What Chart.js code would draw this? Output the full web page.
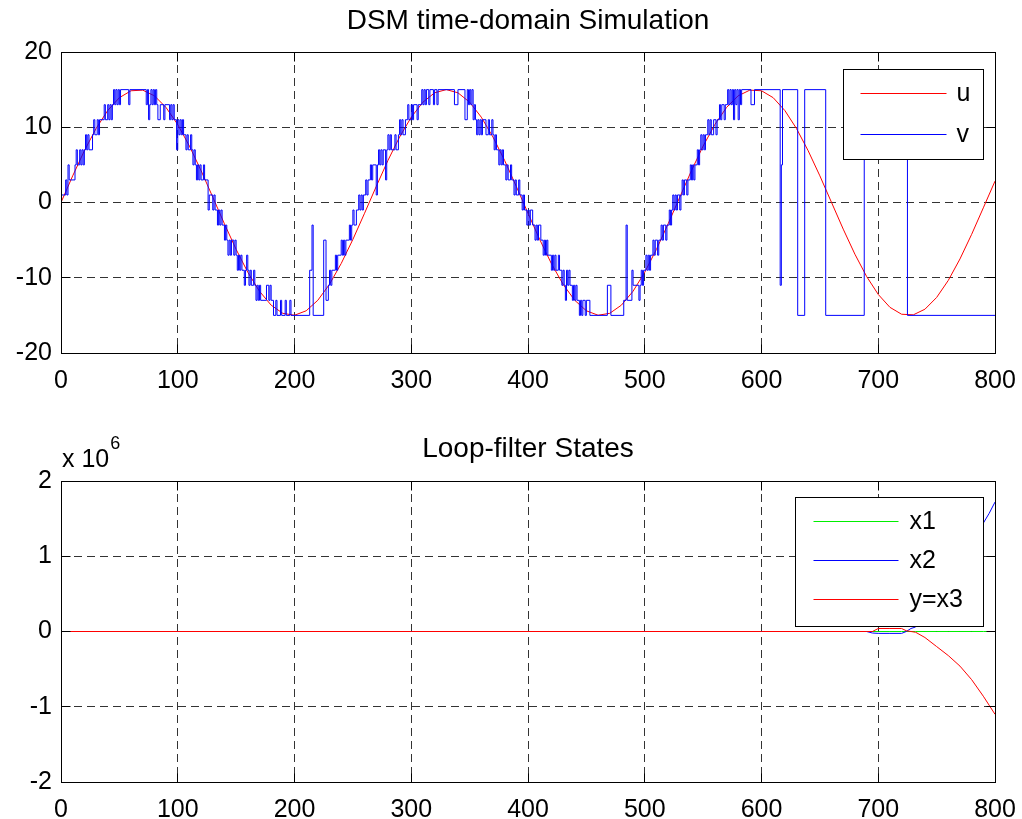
<!DOCTYPE html>
<html>
<head>
<meta charset="utf-8">
<script src="https://cdn.jsdelivr.net/npm/chart.js@4.4.1/dist/chart.umd.min.js"></script>
<style>
html,body{margin:0;padding:0;background:#ffffff;}
#wrap{position:relative;width:1022px;height:819px;overflow:hidden;}
canvas{position:absolute;left:0;}
</style>
</head>
<body>
<div id="wrap">
<canvas id="c1" width="1022" height="410" style="top:0;width:1022px;height:410px"></canvas>
<canvas id="c2" width="1022" height="409" style="top:410px;width:1022px;height:409px"></canvas>
</div>
<script>
// ---------------- data ----------------
const xTickValues = [0, 100, 200, 300, 400, 500, 600, 700, 800];
const topYTickValues = [-20, -10, 0, 10, 20];
const bottomYTickValues = [-2, -1, 0, 1, 2];   // in units of 10^6
const bottomExponent = 6;

const titleTop = 'DSM time-domain Simulation';
const titleBottom = 'Loop-filter States';

// input u, read every 10 samples
const uTimes = [0,10,20,30,40,50,60,70,80,90,100,110,120,130,140,150,160,170,180,190,
  200,210,220,230,240,250,260,270,280,290,300,310,320,330,340,350,360,370,380,390,
  400,410,420,430,440,450,460,470,480,490,500,510,520,530,540,550,560,570,580,590,
  600,610,620,630,640,650,660,670,680,690,700,710,720,730,740,750,760,770,780,790,800];
const uValues = [0,3.54,6.87,9.82,12.22,13.93,14.85,14.93,14.18,12.62,
  10.35,7.5,4.23,0.71,-2.84,-6.23,-9.27,-11.79,-13.64,-14.73,
  -14.98,-14.39,-12.99,-10.86,-8.11,-4.91,-1.43,2.13,5.58,8.7,
  11.34,13.33,14.58,15,14.58,13.33,11.34,8.7,5.58,2.13,
  -1.43,-4.91,-8.11,-10.86,-12.99,-14.39,-14.98,-14.73,-13.64,-11.79,
  -9.27,-6.23,-2.84,0.71,4.23,7.5,10.35,12.62,14.18,14.93,
  14.85,13.93,12.22,9.82,6.87,3.54,0,-3.54,-6.87,-9.82,
  -12.22,-13.93,-14.85,-14.93,-14.18,-12.62,-10.35,-7.5,-4.23,-0.71,2.84];

// quantizer output v: [sample where level starts, level]
const vSteps = [[0,1],[4,3],[5,1],[6,5],[7,3],[12,5],[13,7],[14,5],[16,7],[17,5],[18,7],[19,5],[20,7],[21,9],[22,7],[23,9],[24,7],[27,9],[28,11],[29,9],[31,11],[32,9],[33,11],[37,13],[38,11],[40,13],[41,11],[42,13],[43,11],[44,13],[45,15],[46,13],[47,15],[48,13],[49,15],[50,13],[51,15],[58,13],[59,15],
[73,13],[74,15],[75,11],[76,13],[77,15],[78,13],[79,15],[80,13],[81,15],[82,13],[83,11],[85,13],[88,11],[89,13],[93,11],[94,13],[95,11],[96,13],[97,11],[99,7],[100,11],[101,9],[102,11],[103,9],[104,11],[105,9],[107,7],[108,9],[109,7],[111,9],[112,7],[113,5],[114,7],[115,5],[116,3],[117,5],[118,3],[119,5],[120,3],[122,5],[123,3],[126,-1],[127,1],[130,-1],[131,1],[132,-1],[134,-3],[135,-1],[136,-3],[137,-1],[138,-3],[140,-5],[141,-3],[142,-5],[143,-7],[144,-5],[145,-7],[146,-5],[148,-7],[149,-5],[150,-7],[151,-9],[152,-7],[153,-9],[154,-7],[155,-9],[157,-11],[158,-9],[159,-7],[160,-9],[161,-11],[162,-9],[163,-11],[165,-9],[166,-11],[167,-13],[168,-11],[169,-13],[170,-11],[171,-13],[176,-11],[178,-13],[179,-11],[180,-13],[182,-15],[184,-13],[185,-15],[188,-13],[189,-15],[192,-13],[193,-15],[196,-13],[197,-15],
[213,-9],[215,-3],[216,-15],[225,-5],[227,-13],[229,-11],[230,-9],[231,-11],[232,-9],[235,-7],[236,-9],[237,-7],[240,-5],[241,-7],[242,-5],[243,-7],[244,-5],[247,-3],[248,-5],[249,-3],[250,-1],[251,-3],[253,-1],[255,1],[256,-1],[257,1],[258,-1],[259,1],[261,3],[262,1],[263,3],[265,5],[266,3],[267,5],[270,1],[271,5],[272,7],[273,5],[274,7],[275,5],[276,7],[278,3],[279,7],[280,9],[281,7],[282,9],[283,7],[286,9],[287,7],[289,9],[290,11],[291,9],[292,11],[293,9],[295,11],[297,13],[298,11],[300,13],[301,11],[302,13],[305,11],[306,13],[309,15],[310,13],[311,15],[312,13],[313,15],[315,13],[316,15],[319,13],[320,15],[322,13],[323,15],[337,13],[340,15],
[346,11],[348,15],[349,13],[350,15],[351,13],[352,15],[353,11],[354,13],[355,11],[356,9],[357,11],[358,9],[359,11],[360,9],[361,11],[364,9],[366,11],[367,9],[369,11],[370,9],[371,7],[372,9],[373,7],[375,5],[376,7],[377,5],[378,7],[379,5],[381,3],[382,5],[383,3],[385,5],[386,3],[388,1],[389,3],[390,1],[392,3],[393,1],[395,-1],[396,1],[397,-1],[399,-3],[400,-1],[401,-3],[402,-1],[404,-3],[406,-5],[407,-3],[408,-5],[409,-3],[411,-5],[413,-7],[414,-5],[415,-7],[416,-5],[417,-7],[420,-9],[421,-7],[422,-9],[423,-7],[424,-9],[426,-7],[427,-9],[429,-11],[430,-9],[431,-11],[432,-13],[433,-9],[434,-11],[435,-9],[436,-11],[438,-13],[439,-11],[440,-13],[441,-11],[442,-13],[444,-15],[445,-13],[446,-15],[447,-13],[449,-15],[450,-13],[453,-15],
[468,-11],[471,-15],[482,-13],[484,-3],[485,-13],[489,-9],[490,-11],[495,-13],[496,-11],[497,-9],[498,-11],[499,-9],[501,-7],[502,-9],[503,-7],[504,-9],[505,-7],[507,-5],[508,-7],[509,-5],[511,-7],[512,-5],[514,-3],[515,-5],[516,-3],[518,-5],[519,-3],[521,-1],[522,-3],[523,-1],[524,1],[525,-1],[526,1],[527,-1],[528,1],[530,-1],[531,1],[532,3],[533,1],[534,3],[536,1],[537,3],[539,5],[540,3],[541,5],[542,3],[543,5],[545,7],[546,5],[547,7],[548,9],[549,7],[550,9],[551,7],[552,9],[554,11],[555,9],[556,11],[557,9],[559,11],[561,9],[562,11],[564,13],[565,11],[566,13],[568,11],[569,13],[571,15],[572,13],[573,15],[574,13],[575,15],[576,11],[577,15],[578,13],[579,15],[580,11],[581,15],[582,13],[583,15],[591,13],[594,15],[616,-11],[617,5],[618,15],[631,-15],[637,15],[655,-15],[688,15],[725,-15],[800,-15]];

// loop-filter states (raw units)
const stateTimes = [0,100,200,300,400,500,600,690,695,700,710,720,724,728,732,740,750,760,770,780,790,795,800];
const x1Values = [0,0,0,0,0,0,0,0,0,0,0,0,0,0,0,0,0,0,0,0,0,0,0];
const x2Values = [0,0,0,0,0,0,0,0,-20000,-25000,-25000,-25000,0,40000,60000,200000,420000,650000,900000,1170000,1440000,1570000,1720000];
const x3Values = [0,0,0,0,0,0,0,0,0,40000,40000,40000,10000,0,-10000,-80000,-200000,-320000,-460000,-640000,-860000,-980000,-1100000];

// ---------------- styling ----------------
const FONT = '"Liberation Sans", Arial, Helvetica, sans-serif';
Chart.defaults.font.family = FONT;
Chart.defaults.font.size = 25;
Chart.defaults.color = '#000';

const al = p => Math.round(p - 0.5) + 0.5;

function makeFramePlugin(cfg) {
  return {
    id: 'matlabFrame',
    afterDraw(chart) {
      const {ctx, chartArea: a, scales} = chart;
      ctx.save();
      ctx.setLineDash([]);
      ctx.globalAlpha = 1;
      ctx.globalCompositeOperation = 'source-over';
      ctx.strokeStyle = '#000';
      ctx.lineWidth = 1;
      const L = al(a.left), R = al(a.right), T = al(a.top), B = al(a.bottom);
      const tl = 9;
      ctx.beginPath();
      scales.x.ticks.forEach(t => {
        const p = al(scales.x.getPixelForValue(t.value));
        ctx.moveTo(p, B); ctx.lineTo(p, B - tl);
        ctx.moveTo(p, T); ctx.lineTo(p, T + tl);
      });
      scales.y.ticks.forEach(t => {
        const p = al(scales.y.getPixelForValue(t.value));
        ctx.moveTo(L, p); ctx.lineTo(L + tl, p);
        ctx.moveTo(R, p); ctx.lineTo(R - tl, p);
      });
      ctx.stroke();
      ctx.strokeRect(L, T, R - L, B - T);

      // title
      ctx.fillStyle = '#000';
      ctx.font = '28px ' + FONT;
      ctx.textAlign = 'center';
      ctx.textBaseline = 'middle';
      ctx.fillText(cfg.title, (a.left + a.right) / 2, a.top - cfg.titleGap);

      // exponent label
      if (cfg.exponent) {
        ctx.textAlign = 'left';
        ctx.textBaseline = 'alphabetic';
        ctx.font = '25px ' + FONT;
        const base = 'x 10';
        ctx.fillText(base, a.left + 1, a.top - 14);
        const w = ctx.measureText(base).width;
        ctx.font = '18px ' + FONT;
        ctx.fillText(String(cfg.exponent), a.left + 2 + w, a.top - 32);
      }

      // legend
      const lg = cfg.legend;
      const bx = al(a.right - lg.rightGap - lg.width);
      const by = al(a.top + lg.topGap);
      ctx.fillStyle = '#ffffff';
      ctx.fillRect(bx, by, lg.width, lg.height);
      ctx.strokeStyle = '#000000';
      ctx.strokeRect(bx, by, lg.width, lg.height);
      ctx.font = '25px ' + FONT;
      ctx.textAlign = 'left';
      ctx.textBaseline = 'middle';
      for (let i = 0; i < lg.labels.length; i++) {
        const y = al(by + lg.firstRow + i * lg.rowGap);
        ctx.strokeStyle = lg.colors[i];
        ctx.lineWidth = 1;
        ctx.beginPath();
        ctx.moveTo(bx + lg.lineX0, y);
        ctx.lineTo(bx + lg.lineX1, y);
        ctx.stroke();
        ctx.fillStyle = '#000000';
        ctx.fillText(lg.labels[i], bx + lg.textX, y + 1);
      }
      ctx.restore();
    }
  };
}

function xScaleOpts(h) {
  return {
    type: 'linear', min: 0, max: 800,
    afterBuildTicks: s => { s.ticks = xTickValues.map(v => ({value: v})); },
    afterFit: s => { s.height = h; s.paddingLeft = 0; s.paddingRight = 0; },
    ticks: {padding: 13, autoSkip: false, maxRotation: 0, minRotation: 0, color: '#000'},
    grid: {color: '#333', lineWidth: 1, drawTicks: false},
    border: {display: false, dash: [8, 5]}
  };
}

// ---------------- top chart ----------------
new Chart(document.getElementById('c1'), {
  type: 'line',
  data: {
    datasets: [
      {label: 'u', data: uTimes.map((t, i) => ({x: t, y: uValues[i]})),
       borderColor: '#ff0000', borderWidth: 1, pointRadius: 0, tension: 0, order: 2},
      {label: 'v', data: vSteps.map(s => ({x: s[0], y: s[1]})), stepped: true,
       borderColor: '#0000ff', borderWidth: 1, pointRadius: 0, tension: 0, order: 1}
    ]
  },
  options: {
    responsive: false, animation: false, devicePixelRatio: 1, events: [],
    layout: {padding: {left: 0, right: 27, top: 52, bottom: 12}},
    plugins: {legend: {display: false}, tooltip: {enabled: false}},
    scales: {
      x: xScaleOpts(45),
      y: {
        type: 'linear', min: -20, max: 20,
        afterBuildTicks: s => { s.ticks = topYTickValues.map(v => ({value: v})); },
        afterFit: s => { s.width = 61; s.paddingTop = 0; s.paddingBottom = 0; },
        ticks: {padding: 9, color: '#000'},
        grid: {color: '#333', lineWidth: 1, drawTicks: false},
        border: {display: false, dash: [8, 5]}
      }
    }
  },
  plugins: [makeFramePlugin({
    title: titleTop, titleGap: 31,
    legend: {width: 140, height: 90, rightGap: 12, topGap: 17, firstRow: 24, rowGap: 41,
             lineX0: 17, lineX1: 103, textX: 113,
             labels: ['u', 'v'], colors: ['#ff0000', '#0000ff']}
  })]
});

// ---------------- bottom chart ----------------
const scaleFactor = Math.pow(10, bottomExponent);
new Chart(document.getElementById('c2'), {
  type: 'line',
  data: {
    datasets: [
      {label: 'x1', data: stateTimes.map((t, i) => ({x: t, y: x1Values[i]})),
       borderColor: '#00ee00', borderWidth: 1, pointRadius: 0, tension: 0, order: 3},
      {label: 'x2', data: stateTimes.map((t, i) => ({x: t, y: x2Values[i]})),
       borderColor: '#0000ff', borderWidth: 1, pointRadius: 0, tension: 0, order: 2},
      {label: 'y=x3', data: stateTimes.map((t, i) => ({x: t, y: x3Values[i]})),
       borderColor: '#ff0000', borderWidth: 1, pointRadius: 0, tension: 0, order: 1}
    ]
  },
  options: {
    responsive: false, animation: false, devicePixelRatio: 1, events: [],
    layout: {padding: {left: 0, right: 27, top: 71, bottom: 0}},
    plugins: {legend: {display: false}, tooltip: {enabled: false}},
    scales: {
      x: xScaleOpts(37),
      y: {
        type: 'linear', min: -2 * scaleFactor, max: 2 * scaleFactor,
        afterBuildTicks: s => { s.ticks = bottomYTickValues.map(v => ({value: v * scaleFactor})); },
        afterFit: s => { s.width = 61; s.paddingTop = 0; s.paddingBottom = 0; },
        ticks: {padding: 9, color: '#000', callback: v => String(Math.round(v / scaleFactor))},
        grid: {color: '#333', lineWidth: 1, drawTicks: false},
        border: {display: false, dash: [8, 5]}
      }
    }
  },
  plugins: [makeFramePlugin({
    title: titleBottom, titleGap: 32, exponent: bottomExponent,
    legend: {width: 188, height: 129, rightGap: 12, topGap: 16, firstRow: 24, rowGap: 39,
             lineX0: 18, lineX1: 103, textX: 114,
             labels: ['x1', 'x2', 'y=x3'], colors: ['#00ee00', '#0000ff', '#ff0000']}
  })]
});
</script>
</body>
</html>
